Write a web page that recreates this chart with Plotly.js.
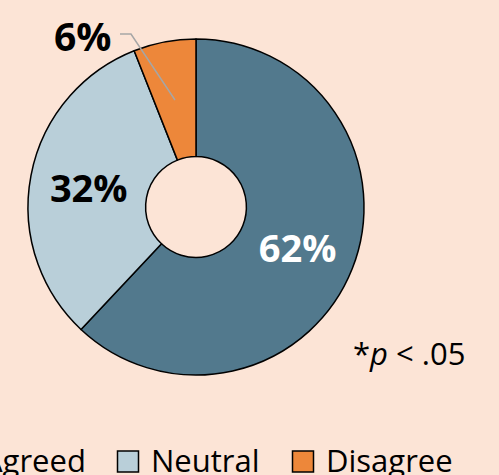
<!DOCTYPE html>
<html>
<head>
<meta charset="utf-8">
<script src="https://cdn.plot.ly/plotly-3.0.1.min.js"></script>
<style>
html,body{margin:0;padding:0;background:#FCE4D6;overflow:hidden;width:499px;height:475px;}
#chart{position:absolute;left:0;top:0;width:499px;height:475px;}
</style>
</head>
<body>
<div id="chart"></div>
<script>
// ---- data ----
const categories = ['Agreed', 'Neutral', 'Disagree'];
const shares = [62, 32, 6];
const sliceColors = ['#52798D', '#B9CFD9', '#ED873A'];
const noteText = '*<i>p</i> < .05';

// ---- layout helpers (page px -> paper fraction) ----
const W = 499, H = 475;
const px = x => x / W;
const py = y => 1 - y / H;
const FONT = '"Open Sans", Lato, sans-serif';
const legendLeft = [-50, 117.5, 292.5];   // left edge of each legend swatch (px)
const legendY = 461.5, swatch = 21;

const trace = {
  type: 'pie',
  labels: categories,
  values: shares,
  sort: false,
  direction: 'clockwise',
  rotation: 0,
  hole: 0.3,
  marker: {colors: sliceColors, line: {color: '#000000', width: 1.5}},
  texttemplate: '%{value}%',
  textposition: ['inside', 'inside', 'none'],
  insidetextorientation: 'horizontal',
  insidetextfont: {family: FONT, size: 38, color: ['#FFFFFF', '#000000', '#000000'], weight: 'bold'},
  hoverinfo: 'none',
  showlegend: false,
  domain: {x: [px(28), px(364)], y: [py(375), py(39)]}
};

const annotations = [
  {
    xref: 'paper', yref: 'paper',
    x: px(82), y: py(36),
    text: '<b>' + shares[2] + '%</b>',
    showarrow: false,
    font: {family: FONT, size: 39, color: '#000000'},
    xanchor: 'center', yanchor: 'middle'
  },
  {
    xref: 'paper', yref: 'paper',
    x: px(409), y: py(353),
    text: noteText,
    showarrow: false,
    font: {family: FONT, size: 31, color: '#000000'},
    xanchor: 'center', yanchor: 'middle'
  }
];
const shapes = [
  {
    type: 'path', xref: 'paper', yref: 'paper',
    path: 'M ' + px(120) + ' ' + py(34) + ' L ' + px(131) + ' ' + py(34) + ' L ' + px(175) + ' ' + py(100),
    line: {color: '#A6A6A6', width: 1.5}
  }
];
// legend (swatches + labels) built from the category/colour arrays
categories.forEach((c, i) => {
  const x0 = legendLeft[i];
  shapes.push({
    type: 'rect', xref: 'paper', yref: 'paper',
    x0: px(x0), x1: px(x0 + swatch),
    y0: py(legendY + swatch / 2), y1: py(legendY - swatch / 2),
    fillcolor: sliceColors[i],
    line: {color: '#000000', width: 1.5}
  });
  annotations.push({
    xref: 'paper', yref: 'paper',
    x: px(x0 + swatch + 10), y: py(legendY - 2),
    text: c,
    showarrow: false,
    font: {family: FONT, size: 31, color: '#000000'},
    xanchor: 'left', yanchor: 'middle'
  });
});

const layout = {
  width: W, height: H,
  margin: {l: 0, r: 0, t: 0, b: 0},
  paper_bgcolor: '#FCE4D6',
  plot_bgcolor: '#FCE4D6',
  font: {family: FONT, color: '#000000'},
  showlegend: false,
  annotations: annotations,
  shapes: shapes
};

Plotly.newPlot('chart', [trace], layout, {displayModeBar: false, staticPlot: true});
</script>
</body>
</html>
